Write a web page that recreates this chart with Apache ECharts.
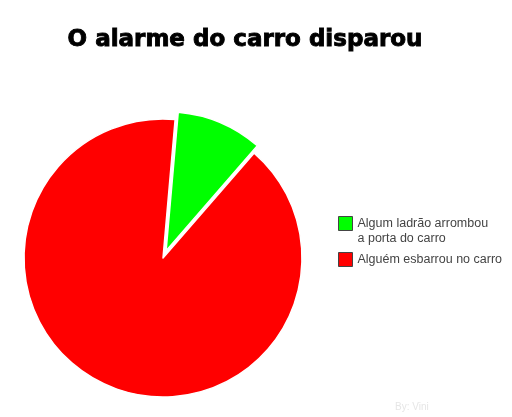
<!DOCTYPE html>
<html>
<head>
<meta charset="utf-8">
<script src="https://cdn.jsdelivr.net/npm/echarts@6/dist/echarts.min.js"></script>
<style>
  html, body { margin: 0; padding: 0; background: #fff; }
  #chart { width: 512px; height: 417px; }
</style>
</head>
<body>
<div id="chart"></div>
<script>
// dados do grafico
var labels = ['Algum ladrão arrombou\na porta do carro', 'Alguém esbarrou no carro'];
var values = [10, 90];
var colors = ['#00ff00', '#ff0000'];

function init() {
    var chart = echarts.init(document.getElementById('chart'));

    var data = [];
    for (var i = 0; i < labels.length; i++) {
        data.push({ name: labels[i], value: values[i], selected: i === 0, itemStyle: { color: colors[i] } });
    }

    var option = {
        animation: false,
        backgroundColor: '#fff',
        title: {
            text: 'O alarme do carro disparou',
            left: 240,
            textAlign: 'center',
            top: 24,
            textStyle: {
                fontFamily: 'DejaVu Sans', fontWeight: 'bold', fontSize: 23, color: '#000',
                textBorderColor: '#000', textBorderWidth: 0.9
            }
        },
        graphic: [{
            type: 'text',
            left: 395,
            top: 402,
            style: { text: 'By: Vini', fill: '#e6e6e6', font: '10px "Liberation Sans"' }
        }],
        legend: {
            orient: 'vertical',
            left: 333,
            top: 196,
            itemWidth: 14,
            itemHeight: 14,
            itemGap: 6,
            icon: 'rect',
            selectedMode: false,
            // linha vazia em cima para o icone ficar na altura da primeira linha
            formatter: function (name) {
                return name.indexOf('\n') >= 0 ? '\n' + name : name;
            },
            itemStyle: { borderColor: '#444', borderWidth: 1 },
            textStyle: { fontFamily: 'Liberation Sans', fontSize: 12.5, color: '#444', lineHeight: 15 }
        },
        series: [{
            type: 'pie',
            center: [163, 258],
            radius: 139,
            startAngle: 85,
            clockwise: true,
            selectedMode: 'single',
            selectedOffset: 8,
            label: { show: false },
            labelLine: { show: false },
            emphasis: { disabled: true },
            itemStyle: { borderColor: '#fff', borderWidth: 1.5 },
            data: data
        }]
    };
    chart.setOption(option);
}

window.addEventListener('load', init, false);
</script>
</body>
</html>
